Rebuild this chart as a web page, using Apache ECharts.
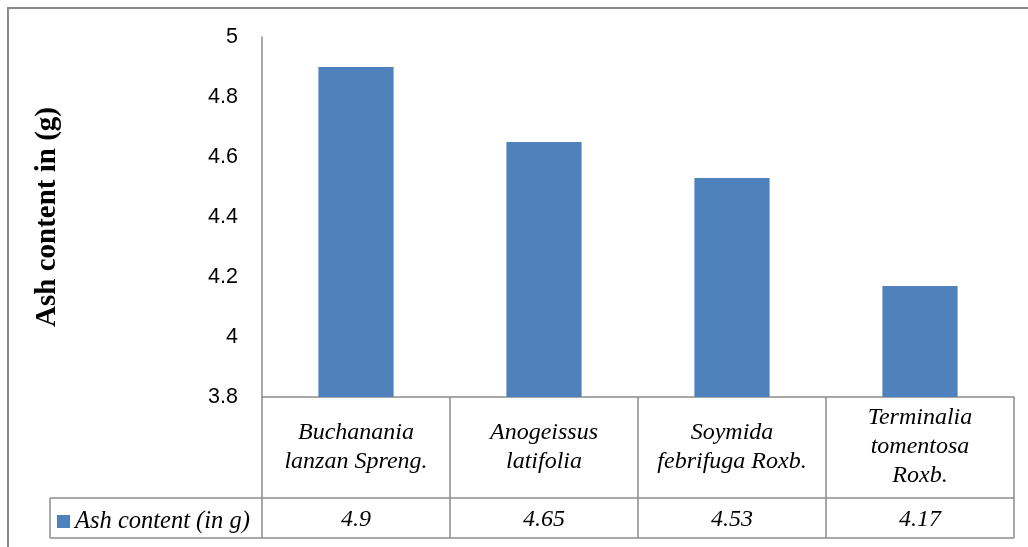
<!DOCTYPE html>
<html>
<head>
<meta charset="utf-8">
<title>Ash content</title>
<script src="https://cdn.jsdelivr.net/npm/echarts@6/dist/echarts.min.js"></script>
<style>
  html, body { margin: 0; padding: 0; background: #fff; }
  #chart { width: 1028px; height: 547px; }
</style>
</head>
<body>
<div id="chart"></div>
<script>
// Species (tick labels, with the line breaks used in the table)
const categories = [
  'Buchanania\nlanzan Spreng.',
  'Anogeissus\nlatifolia',
  'Soymida\nfebrifuga Roxb.',
  'Terminalia\ntomentosa\nRoxb.'
];
// Ash content (in g)
const ashValues = [4.9, 4.65, 4.53, 4.17];
const seriesName = 'Ash content (in g)';
const yTitle = 'Ash content in (g)';
const yMin = 3.8, yMax = 5, yStep = 0.2;

// Layout of the plot and its data table
const W = 1028, H = 547;
const gridLeft = 262, gridRight = 14, gridTop = 37, axisY = 397;
const catRowBottom = 498, valRowBottom = 538, legendCellLeft = 50;
const lineColor = '#8c8c8c';
const serif = '"Liberation Serif", "Times New Roman", serif';
const sans = '"Liberation Sans", Arial, sans-serif';

const chart = echarts.init(document.getElementById('chart'), null, { renderer: 'canvas' });

chart.setOption({
  animation: false,
  backgroundColor: '#fff',
  grid: { left: gridLeft, right: gridRight, top: gridTop, bottom: H - axisY, containLabel: false },
  legend: {
    data: [seriesName],
    left: legendCellLeft + 7,
    top: 509,
    icon: 'rect',
    itemWidth: 13,
    itemHeight: 13,
    itemGap: 6,
    padding: 0,
    textStyle: { fontFamily: serif, fontStyle: 'italic', fontSize: 24.5, color: '#000' }
  },
  xAxis: [
    {
      type: 'category',
      data: categories,
      position: 'bottom',
      axisLine: { show: true, lineStyle: { color: lineColor, width: 1.5 } },
      axisTick: { show: true, alignWithLabel: false, length: valRowBottom - axisY, lineStyle: { color: lineColor, width: 1.5 } },
      axisLabel: {
        show: true, interval: 0, margin: 50, verticalAlign: 'middle',
        fontFamily: serif, fontStyle: 'italic', fontSize: 24, lineHeight: 29, color: '#000', align: 'center'
      },
      splitLine: { show: false }
    },
    {
      type: 'category',
      data: ashValues.map(String),
      position: 'bottom',
      axisLine: { show: false },
      axisTick: { show: false },
      axisLabel: {
        show: true, interval: 0, margin: 123, verticalAlign: 'middle',
        fontFamily: serif, fontStyle: 'italic', fontSize: 24, color: '#000'
      },
      splitLine: { show: false }
    }
  ],
  yAxis: {
    type: 'value',
    min: yMin, max: yMax, interval: yStep,
    name: yTitle,
    nameLocation: 'middle',
    nameRotate: 90,
    nameGap: 200,
    nameTextStyle: { fontFamily: serif, fontWeight: 'bold', fontSize: 29, color: '#000' },
    axisLine: { show: true, lineStyle: { color: lineColor, width: 1.5 } },
    axisTick: { show: false },
    splitLine: { show: false },
    axisLabel: {
      margin: 24, fontFamily: sans, fontSize: 21.5, color: '#000',
      formatter: v => String(Math.round(v * 10) / 10)
    }
  },
  series: [{
    name: seriesName,
    type: 'bar',
    data: ashValues,
    barWidth: '40%',
    itemStyle: { color: '#4f81bd' }
  }],
  graphic: [
    // outer chart frame
    { type: 'rect', silent: true, shape: { x: 8, y: 8, width: W + 100, height: H + 100 },
      style: { fill: null, stroke: '#8a8a8a', lineWidth: 2 } },
    // data table horizontal rules
    { type: 'line', silent: true, shape: { x1: legendCellLeft, y1: catRowBottom, x2: W - gridRight, y2: catRowBottom },
      style: { stroke: lineColor, lineWidth: 1.5 } },
    { type: 'line', silent: true, shape: { x1: legendCellLeft, y1: valRowBottom, x2: W - gridRight, y2: valRowBottom },
      style: { stroke: lineColor, lineWidth: 1.5 } },
    // legend cell left edge
    { type: 'line', silent: true, shape: { x1: legendCellLeft, y1: catRowBottom, x2: legendCellLeft, y2: valRowBottom },
      style: { stroke: lineColor, lineWidth: 1.5 } }
  ]
});
</script>
</body>
</html>
